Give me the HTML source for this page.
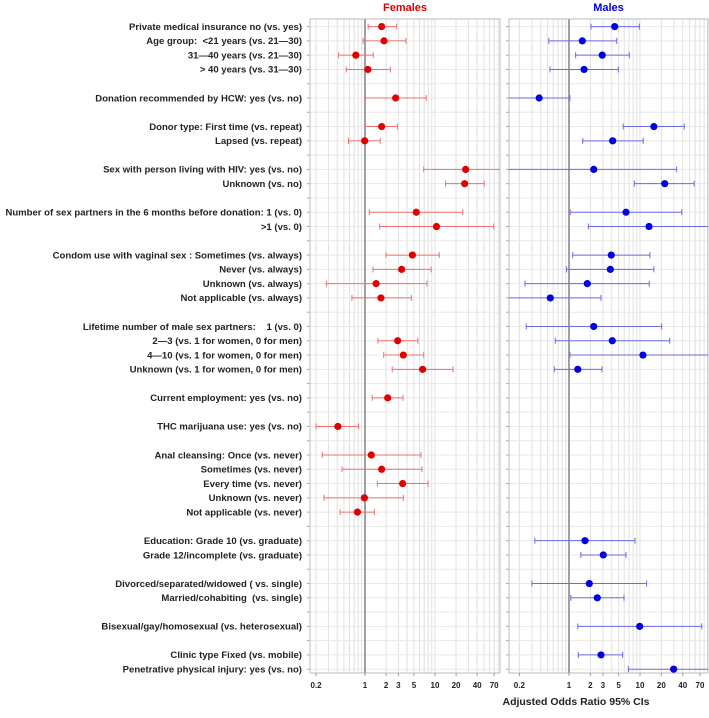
<!DOCTYPE html>
<html><head><meta charset="utf-8"><style>
body{margin:0;background:#fff;width:709px;height:718px;overflow:hidden}
svg{display:block;font-family:"Liberation Sans",Arial,sans-serif}
text{white-space:pre}
</style></head><body>
<svg id="c" width="709" height="718"></svg>
<script>
const labels=["Private medical insurance no (vs. yes)","Age group:  <21 years (vs. 21\u201430)","31\u201440 years (vs. 21\u201430)","> 40 years (vs. 31\u201430)","",
"Donation recommended by HCW: yes (vs. no)","","Donor type: First time (vs. repeat)","Lapsed (vs. repeat)","",
"Sex with person living with HIV: yes (vs. no)","Unknown (vs. no)","","Number of sex partners in the 6 months before donation: 1 (vs. 0)",">1 (vs. 0)","",
"Condom use with vaginal sex : Sometimes (vs. always)","Never (vs. always)","Unknown (vs. always)","Not applicable (vs. always)","",
"Lifetime number of male sex partners:    1 (vs. 0)","2\u20143 (vs. 1 for women, 0 for men)","4\u201410 (vs. 1 for women, 0 for men)","Unknown (vs. 1 for women, 0 for men)","",
"Current employment: yes (vs. no)","","THC marijuana use: yes (vs. no)","",
"Anal cleansing: Once (vs. never)","Sometimes (vs. never)","Every time (vs. never)","Unknown (vs. never)","Not applicable (vs. never)","",
"Education: Grade 10 (vs. graduate)","Grade 12/incomplete (vs. graduate)","","Divorced/separated/widowed ( vs. single)","Married/cohabiting  (vs. single)","",
"Bisexual/gay/homosexual (vs. heterosexual)","","Clinic type Fixed (vs. mobile)","Penetrative physical injury: yes (vs. no)"];
const femaleRows=[0,1,2,3,5,7,8,10,11,13,14,16,17,18,19,22,23,24,26,28,30,31,32,33,34];
const femaleEst=[1.73,1.87,0.74,1.10,2.74,1.73,0.99,27.4,26.5,5.4,10.5,4.75,3.34,1.44,1.69,2.93,3.53,6.66,2.11,0.41,1.23,1.73,3.45,0.98,0.78];
const femaleLo=[1.11,0.94,0.42,0.54,1.01,1.01,0.58,6.9,14.2,1.15,1.62,2.0,1.30,0.28,0.65,1.53,1.85,2.45,1.27,0.20,0.245,0.47,1.50,0.26,0.44];
const femaleHi=[2.84,3.85,1.31,2.30,7.5,2.9,1.65,150,50.6,25,69,11.5,8.8,7.7,4.6,5.7,6.9,18.1,3.49,0.81,6.3,6.5,7.95,3.53,1.36];
const maleRows=[0,1,2,3,5,7,8,10,11,13,14,16,17,18,19,21,22,23,24,36,37,39,40,42,44,45];
const maleEst=[4.4,1.54,2.94,1.63,0.38,15.7,4.12,2.23,22.3,6.35,13.4,3.94,3.82,1.81,0.545,2.23,4.07,11.0,1.33,1.68,3.04,1.93,2.5,9.9,2.82,29.8];
const maleLo=[2.04,0.52,1.24,0.54,0.1,5.8,1.56,0.1,8.3,1.04,1.87,1.13,0.92,0.24,0.1,0.25,0.64,1.03,0.62,0.33,1.47,0.30,1.06,1.33,1.35,6.85];
const maleHi=[9.8,4.7,7.07,4.95,1.03,42,11.1,32.8,58,38.7,150,13.8,15.7,13.5,2.82,20.2,26.2,150,2.92,8.5,6.35,12.4,5.95,74,5.7,150];
const tickVals=[0.2,1,2,3,5,10,20,40,70];
const minorVals=[0.2,0.3,0.4,0.5,0.6,0.7,0.8,0.9,1,2,3,4,5,6,7,8,9,10,20,30,40,50,60,70,80,90];

const NS="http://www.w3.org/2000/svg";
const svg=document.getElementById('c');
function mk(t,a,p){const e=document.createElementNS(NS,t);for(const k in a)e.setAttribute(k,a[k]);(p||svg).appendChild(e);return e;}
const rowY=i=>26.6+i*14.28;
const yTop=19,yBot=673;
const panels=[
 {name:'females',x0:310,x1:500,one:365,dec:70,color:'#e00000',bar:'#ec7070',title:'Females',rows:femaleRows,est:femaleEst,lo:femaleLo,hi:femaleHi},
 {name:'males',x0:509,x1:708,one:569,dec:71,color:'#0000e0',bar:'#6a6ae6',title:'Males',rows:maleRows,est:maleEst,lo:maleLo,hi:maleHi}
];
panels.forEach((p,pi)=>{
 const sx=v=>p.one+p.dec*Math.log10(v);
 const g=mk('g',{});
 
 
 const cp=mk('clipPath',{id:'cp'+pi},g);mk('rect',{x:p.x0,y:yTop,width:p.x1-p.x0,height:yBot-yTop},cp);
 minorVals.forEach(v=>{const x=sx(v);if(x>p.x0&&x<p.x1)mk('line',{x1:x,x2:x,y1:yTop,y2:yBot,stroke:'#e0e0e0','stroke-width':1},g);});
 labels.forEach((l,i)=>{const y=rowY(i);mk('line',{x1:p.x0,x2:p.x1,y1:y,y2:y,stroke:'#e8e8e8','stroke-width':1},g);mk('line',{x1:p.x0-3,x2:p.x0,y1:y,y2:y,stroke:'#aaa','stroke-width':1},g);});
 mk('rect',{x:p.x0,y:yTop,width:p.x1-p.x0,height:yBot-yTop,fill:'none',stroke:'#bbb','stroke-width':1},g);
 mk('line',{x1:sx(1),x2:sx(1),y1:yTop,y2:yBot,stroke:'#a0a0a0','stroke-width':2},g);
 const t=mk('text',{x:(p.x0+p.x1)/2,y:11,'text-anchor':'middle','font-size':11,'font-weight':'bold',fill:p.color},g);t.textContent=p.title;
 
 
 tickVals.forEach(v=>{const x=sx(v);mk('line',{x1:x,x2:x,y1:yBot,y2:yBot+3,stroke:'#999'},g);const tt=mk('text',{x:x,y:688,'text-anchor':'middle','font-size':8,'font-weight':'bold',fill:'#222'},g);tt.textContent=v;
  
  });
 const dg=mk('g',{'clip-path':'url(#cp'+pi+')'},g);
 p.rows.forEach((r,k)=>{
  const y=rowY(r),xl=sx(p.lo[k]),xh=sx(p.hi[k]),xe=sx(p.est[k]);
  const ci=mk('g',{},dg);
  
  
  mk('line',{x1:xl,x2:xh,y1:y,y2:y,stroke:p.bar,'stroke-width':1},ci);
  mk('line',{x1:xl,x2:xl,y1:y-3,y2:y+3,stroke:p.bar,'stroke-width':1},ci);
  mk('line',{x1:xh,x2:xh,y1:y-3,y2:y+3,stroke:p.bar,'stroke-width':1},ci);
  const c=mk('circle',{cx:xe,cy:y,r:3.6,fill:p.color},ci);
  
  
 });
});
labels.forEach((l,i)=>{if(!l)return;const t=mk('text',{x:302,y:rowY(i)+3.3,'text-anchor':'end','font-size':9.55,'font-weight':'bold',fill:'#222'});t.textContent=l;
 
 });
const xt=mk('text',{x:576,y:705,'text-anchor':'middle','font-size':10.5,'font-weight':'bold',fill:'#222'});xt.textContent='Adjusted Odds Ratio 95% CIs';


</script>
</body></html>
